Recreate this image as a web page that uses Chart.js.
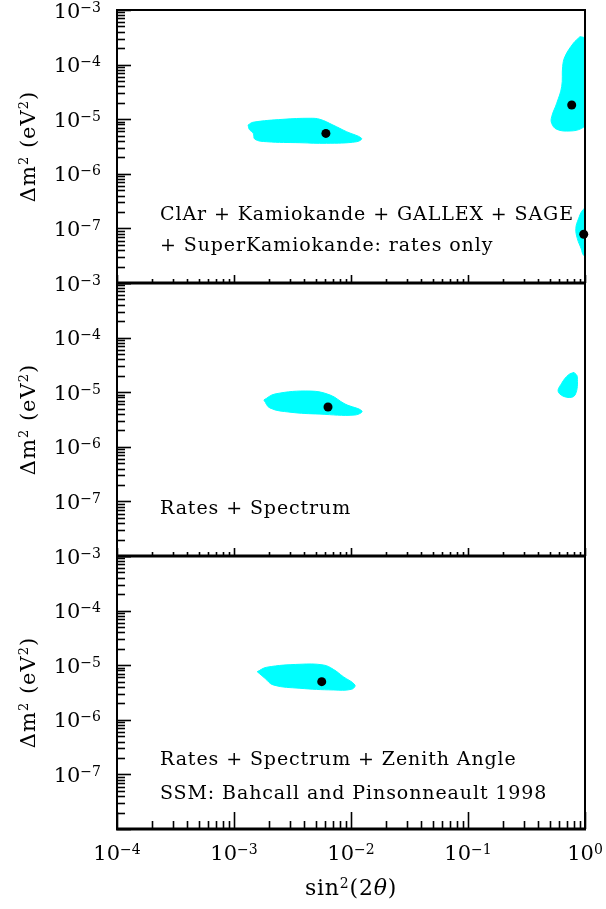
<!DOCTYPE html>
<html><head><meta charset="utf-8">
<script src="https://cdn.jsdelivr.net/npm/chart.js@4.4.0/dist/chart.umd.min.js"></script>
<style>
html,body{margin:0;padding:0;background:#fff;}
#wrap{position:relative;width:606px;height:909px;overflow:hidden;}
canvas{position:absolute;left:0;top:0;}
</style>
</head><body>
<div id="wrap">
<canvas id="c0" width="606" height="909"></canvas>
<canvas id="c1" width="606" height="909"></canvas>
<canvas id="c2" width="606" height="909"></canvas>
</div>
<script>
// ---------------- DATA ----------------
const xMajorExps = [-4, -3, -2, -1, 0];
const yLabelExps = [-3, -4, -5, -6, -7];
const panelTexts = [
  ["ClAr + Kamiokande + GALLEX + SAGE", "+ SuperKamiokande: rates only"],
  ["Rates + Spectrum"],
  ["Rates + Spectrum + Zenith Angle", "SSM: Bahcall and Pinsonneault 1998"]
];

// Panel 1 (rates only) allowed regions
const p1SmaX = [1.32e-3, 1.45e-3, 2.62e-3, 4.47e-3, 5.43e-3, 7.01e-3, 9.18e-3, 1.23e-2, 1.12e-2, 6.19e-3, 3.66e-3, 1.90e-3, 1.51e-3, 1.46e-3, 1.35e-3];
const p1SmaY = [7.83e-6, 8.78e-6, 9.95e-6, 1.04e-5, 9.95e-6, 7.83e-6, 5.90e-6, 4.47e-6, 3.87e-6, 3.62e-6, 3.71e-6, 3.87e-6, 4.29e-6, 5.52e-6, 6.53e-6];
const p1LmaX = [0.905, 0.968, 1.05, 1.05, 1.05, 1.05, 0.937, 0.745, 0.573, 0.519, 0.519, 0.573, 0.632, 0.644, 0.674, 0.794];
const p1LmaY = [3.24e-4, 3.16e-4, 2.8e-4, 1.0e-4, 3.0e-5, 9.0e-6, 6.81e-6, 6.08e-6, 6.53e-6, 8.41e-6, 1.11e-5, 1.96e-5, 3.94e-5, 9.16e-5, 1.40e-4, 2.45e-4];
const p1LowX = [1.05, 0.96, 0.88, 0.835, 0.86, 0.93, 0.968, 1.05];
const p1LowY = [2.4e-7, 2.2e-7, 1.5e-7, 1.0e-7, 6.5e-8, 4.2e-8, 3.26e-8, 3.0e-8];
const p1BestX = [6.1e-3, 0.77, 0.975];
const p1BestY = [5.5e-6, 1.82e-5, 7.8e-8];

// Panel 2 (rates + spectrum)
const p2SmaX = [1.80e-3, 2.24e-3, 4.47e-3, 6.62e-3, 8.89e-3, 1.24e-2, 1.08e-2, 5.43e-3, 3.01e-3, 2.03e-3];
const p2SmaY = [7.2e-6, 9.27e-6, 1.05e-5, 8.89e-6, 6.08e-6, 4.53e-6, 3.82e-6, 3.97e-6, 4.31e-6, 5.14e-6];
const p2LmaX = [0.805, 0.859, 0.822, 0.698, 0.591, 0.632, 0.72];
const p2LmaY = [2.31e-5, 1.92e-5, 8.89e-6, 8.07e-6, 1.02e-5, 1.46e-5, 2.07e-5];
const p2BestX = [6.36e-3];
const p2BestY = [5.36e-6];

// Panel 3 (rates + spectrum + zenith angle)
const p3SmaX = [1.58e-3, 1.90e-3, 3.66e-3, 5.80e-3, 7.06e-3, 8.6e-3, 1.08e-2, 1.01e-2, 7.06e-3, 3.66e-3, 2.17e-3, 1.84e-3];
const p3SmaY = [7.60e-6, 9.16e-6, 1.04e-5, 1.01e-5, 8.41e-6, 6.15e-6, 4.34e-6, 3.62e-6, 3.52e-6, 3.78e-6, 4.34e-6, 5.75e-6];
const p3BestX = [5.62e-3];
const p3BestY = [4.99e-6];

// ---------------- LAYOUT / STYLE ----------------
const W = 606, H = 909;
const panels = [
  {top: 10, bottom: 283, regions: [[p1SmaX, p1SmaY], [p1LmaX, p1LmaY], [p1LowX, p1LowY]], best: [p1BestX, p1BestY], textY: [-70, -39], xMajor: 8, xMinor: 4, xLabels: false},
  {top: 283, bottom: 556, regions: [[p2SmaX, p2SmaY], [p2LmaX, p2LmaY]], best: [p2BestX, p2BestY], textY: [-49], xMajor: 8, xMinor: 4, xLabels: false},
  {top: 556, bottom: 829, regions: [[p3SmaX, p3SmaY]], best: [p3BestX, p3BestY], textY: [-71, -37], xMajor: 17, xMinor: 8, xLabels: true}
];
const FONT = '"DejaVu Serif", serif';
const CYAN = '#00ffff';

function closedPts(xs, ys) {
  const pts = xs.map((x, i) => ({x: x, y: ys[i]}));
  pts.push({x: xs[0], y: ys[0]});
  return pts;
}
function pts(xs, ys) { return xs.map((x, i) => ({x: x, y: ys[i]})); }

// rich text: parts [{t, sup, it}]
function drawRich(ctx, parts, x, yc, align, size, supSize, spacing) {
  const capH = 0.729;
  const base = yc + capH * size / 2;
  const supBase = base - capH * (size - supSize) - 1;
  ctx.letterSpacing = (spacing || 0) + 'px';
  let w = 0;
  const widths = parts.map(p => {
    ctx.font = (p.it ? 'italic ' : '') + (p.sup ? supSize : size) + 'px ' + FONT;
    const m = ctx.measureText(p.t).width;
    w += m; return m;
  });
  let cx = align === 'right' ? x - w : (align === 'center' ? x - w / 2 : x);
  ctx.textAlign = 'left';
  ctx.textBaseline = 'alphabetic';
  parts.forEach((p, i) => {
    ctx.font = (p.it ? 'italic ' : '') + (p.sup ? supSize : size) + 'px ' + FONT;
    ctx.fillText(p.t, cx, p.sup ? supBase : base);
    cx += widths[i];
  });
  ctx.letterSpacing = '0px';
}
function powParts(e) {
  return [{t: '10'}, {t: (e < 0 ? '\u2212' : '') + Math.abs(e), sup: true}];
}

const decoPlugin = {
  id: 'deco',
  afterDatasetsDraw(chart, args, opts) {
    const ctx = chart.ctx, xs = chart.scales.x, ys = chart.scales.y, a = chart.chartArea;
    const p = opts.panel;
    ctx.save();
    ctx.strokeStyle = '#000';
    ctx.fillStyle = '#000';
    ctx.lineCap = 'butt';
    // y ticks (inside, from left axis)
    for (let e = -8; e <= -3; e++) {
      for (let m = 1; m <= 9; m++) {
        if (e === -3 && m > 1) break;
        const py = Math.round(ys.getPixelForValue(m * Math.pow(10, e))) + 0.5;
        const len = m === 1 ? 14 : 8;
        ctx.lineWidth = 1.6;
        ctx.beginPath(); ctx.moveTo(a.left, py); ctx.lineTo(a.left + len, py); ctx.stroke();
      }
    }
    // x ticks (inside, from bottom axis)
    for (let e = -4; e <= 0; e++) {
      for (let m = 1; m <= 9; m++) {
        if (e === 0 && m > 1) break;
        const px = Math.round(xs.getPixelForValue(m * Math.pow(10, e))) + 0.5;
        const len = m === 1 ? p.xMajor : p.xMinor;
        ctx.lineWidth = 1.6;
        ctx.beginPath(); ctx.moveTo(px, a.bottom); ctx.lineTo(px, a.bottom - len); ctx.stroke();
      }
    }
    // frame
    ctx.lineWidth = 2;
    ctx.beginPath();
    ctx.moveTo(a.left, a.top); ctx.lineTo(a.right, a.top);
    ctx.moveTo(a.left, a.top - 1); ctx.lineTo(a.left, a.bottom + 1);
    ctx.moveTo(a.right, a.top - 1); ctx.lineTo(a.right, a.bottom + 1);
    ctx.stroke();
    ctx.lineWidth = 3;
    ctx.beginPath(); ctx.moveTo(a.left - 1, a.bottom); ctx.lineTo(a.right + 1, a.bottom); ctx.stroke();

    // y tick labels
    yLabelExps.forEach(e => {
      const py = ys.getPixelForValue(Math.pow(10, e));
      drawRich(ctx, powParts(e), a.left - 16, py, 'right', 21, 14, 0);
    });
    // x tick labels
    if (p.xLabels) {
      xMajorExps.forEach(e => {
        const px = xs.getPixelForValue(Math.pow(10, e));
        drawRich(ctx, powParts(e), px, a.bottom + 23, 'center', 21, 14, 0);
      });
      drawRich(ctx, [{t: 'sin'}, {t: '2', sup: true}, {t: '(2'}, {t: '\u03b8', it: true}, {t: ')'}],
        (a.left + a.right) / 2, a.bottom + 58, 'center', 22, 14, 0.8);
    }
    // y axis title
    ctx.save();
    ctx.translate(27, (a.top + a.bottom) / 2);
    ctx.rotate(-Math.PI / 2);
    drawRich(ctx, [{t: '\u0394m'}, {t: '2', sup: true}, {t: ' (eV'}, {t: '2', sup: true}, {t: ')'}], 0, 0, 'center', 21, 13, 1);
    ctx.restore();
    // annotation text
    opts.texts.forEach((t, i) => {
      drawRich(ctx, [{t: t}], a.left + 43, a.bottom + p.textY[i], 'left', 19, 12, 0.9);
    });
    ctx.restore();
  }
};

panels.forEach((p, idx) => {
  const datasets = [{
    label: 'best fit',
    data: pts(p.best[0], p.best[1]),
    pointRadius: 4.5,
    pointHoverRadius: 4.5,
    pointBackgroundColor: '#000',
    pointBorderWidth: 0,
    showLine: false,
    clip: false
  }];
  p.regions.forEach((r, j) => {
    datasets.push({
      label: 'region ' + j,
      data: closedPts(r[0], r[1]),
      showLine: true,
      fill: 'shape',
      backgroundColor: CYAN,
      borderColor: CYAN,
      borderWidth: 1,
      tension: 0.4,
      pointRadius: 0,
      pointHoverRadius: 0
    });
  });
  new Chart(document.getElementById('c' + idx), {
    type: 'scatter',
    data: {datasets: datasets},
    plugins: [decoPlugin],
    options: {
      responsive: false,
      animation: false,
      devicePixelRatio: 1,
      events: [],
      layout: {padding: {top: p.top, bottom: H - p.bottom, left: 117, right: W - 585}},
      scales: {
        x: {type: 'logarithmic', min: 1e-4, max: 1, display: false},
        y: {type: 'logarithmic', min: 1e-8, max: 1e-3, display: false}
      },
      plugins: {
        legend: {display: false},
        tooltip: {enabled: false},
        deco: {panel: p, texts: panelTexts[idx]}
      }
    }
  });
});
</script>
</body></html>
